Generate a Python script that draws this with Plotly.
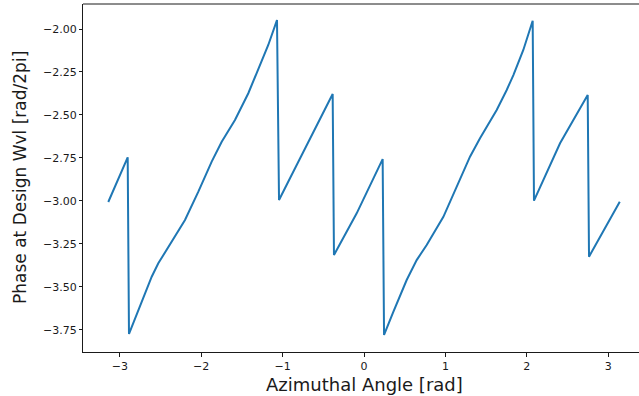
import plotly.graph_objects as go

# Azimuthal angle [rad] and phase [rad/2pi]
angle = [-3.1416, -2.903, -2.887, -2.773, -2.608, -2.527, -2.404, -2.199, -2.035,
         -1.871, -1.748, -1.585, -1.421, -1.299, -1.176, -1.069, -1.044, -0.90,
         -0.746, -0.57, -0.385, -0.369, -0.09, 0.229, 0.246, 0.360, 0.524, 0.647,
         0.770, 0.975, 1.138, 1.302, 1.425, 1.630, 1.753, 1.835, 1.957, 2.072,
         2.088, 2.408, 2.748, 2.764, 3.1416]
phase = [-3.007, -2.747, -3.775, -3.636, -3.442, -3.364, -3.267, -3.112, -2.947,
         -2.772, -2.656, -2.530, -2.374, -2.239, -2.093, -1.948, -2.995, -2.860,
         -2.714, -2.550, -2.378, -3.315, -3.073, -2.757, -3.781, -3.646, -3.461,
         -3.345, -3.257, -3.093, -2.918, -2.743, -2.636, -2.471, -2.355, -2.268,
         -2.122, -1.952, -2.999, -2.665, -2.384, -3.325, -3.005]

x_ticks = [-3, -2, -1, 0, 1, 2, 3]
y_ticks = [-2.00, -2.25, -2.50, -2.75, -3.00, -3.25, -3.50, -3.75]

FONT = "DejaVu Sans"
INK = "#1a1a1a"

fig = go.Figure()
fig.add_trace(go.Scatter(x=angle, y=phase, mode="lines",
                         line=dict(color="#1f77b4", width=2),
                         hoverinfo="skip"))

fig.update_layout(
    width=639, height=396,
    margin=dict(l=83, r=0, t=4, b=44),
    paper_bgcolor="white", plot_bgcolor="white",
    showlegend=False,
    font=dict(family=FONT, color=INK, size=11),
    xaxis=dict(range=[-3.452, 3.378], tickvals=x_ticks, ticks="outside",
               ticklen=4, tickwidth=1, tickcolor=INK, showgrid=False,
               zeroline=False, showline=True, linecolor=INK, linewidth=1,
               automargin=False,
               tickfont=dict(size=11, family=FONT, color=INK)),
    yaxis=dict(range=[-3.880, -1.8545], tickvals=y_ticks, tickformat=".2f",
               ticks="outside", ticklen=3, tickwidth=1, tickcolor=INK,
               showgrid=False, zeroline=False, showline=True, linecolor=INK,
               linewidth=1, automargin=False,
               tickfont=dict(size=11, family=FONT, color=INK)),
    shapes=[dict(type="line", xref="paper", yref="paper", x0=0, x1=1,
                 y0=1, y1=1, line=dict(color=INK, width=1))],
    annotations=[
        dict(text="Azimuthal Angle [rad]", xref="paper", yref="paper",
             x=0.5054, y=-0.0948, xanchor="center", yanchor="middle",
             showarrow=False, font=dict(size=18, family=FONT, color=INK)),
        dict(text="Phase at Design Wvl [rad/2pi]", xref="paper", yref="paper",
             x=-0.1133, y=0.5, xanchor="center", yanchor="middle",
             textangle=-90, showarrow=False,
             font=dict(size=17, family=FONT, color=INK)),
    ],
)

fig.write_html("out.html",
               config={"displayModeBar": False},
               post_script="document.body.style.margin='0';"
                           "document.body.style.overflow='hidden';")
